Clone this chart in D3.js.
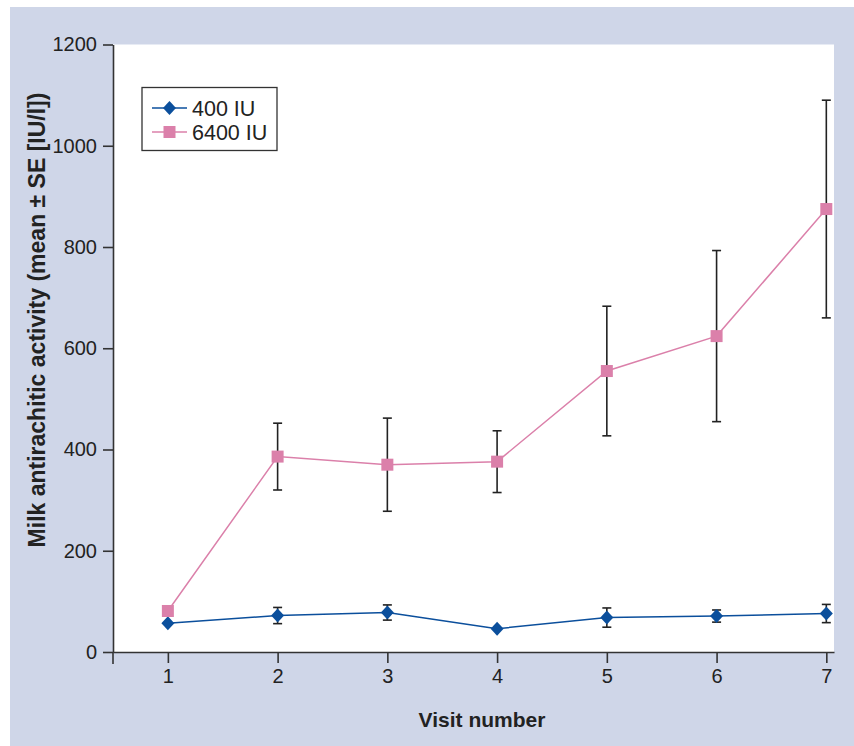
<!DOCTYPE html>
<html>
<head>
<meta charset="utf-8">
<script src="https://cdn.jsdelivr.net/npm/d3@7"></script>
<style>
html,body{margin:0;padding:0;background:#fff;}
svg{display:block;font-family:"Liberation Sans",Arial,Helvetica,sans-serif;}
</style>
</head>
<body>
<svg id="chart" width="854" height="746"></svg>
<script>
// Data
const visits = [1, 2, 3, 4, 5, 6, 7];
const lowDoseMean = [57, 72, 78, 46, 68, 71, 76];
const lowDoseSE = [0, 16, 15, 0, 19, 12, 18];
const highDoseMean = [81, 386, 370, 376, 555, 624, 875];
const highDoseSE = [0, 66, 92, 61, 128, 169, 215];
const seriesNames = ["400 IU", "6400 IU"];
const yTicks = [0, 200, 400, 600, 800, 1000, 1200];

(function () {
const svg = d3.select("#chart");
const W = 854, H = 746;
const mLeft = 113, mRight = 834, mTop = 44.5, mBottom = 652;

const colors = {low: "#0b4f9c", high: "#db80aa", bg: "#cfd6e8", axis: "#333", err: "#222"};

// background panel
svg.append("rect").attr("x", 10).attr("y", 7).attr("width", W - 10).attr("height", H - 7).attr("fill", colors.bg);
// plot area
svg.append("rect").attr("x", mLeft).attr("y", mTop).attr("width", mRight - mLeft).attr("height", mBottom - mTop).attr("fill", "#fff");

const x = d3.scaleLinear().domain([0.5, 7.07]).range([mLeft, mRight]);
const y = d3.scaleLinear().domain([0, 1200]).range([mBottom, mTop]);

// axes
const yAxis = svg.append("g").attr("transform", `translate(${mLeft},0)`)
  .call(d3.axisLeft(y).tickValues(yTicks).tickFormat(d3.format("d")).tickSize(10).tickSizeOuter(0).tickPadding(6));
const xAxis = svg.append("g").attr("transform", `translate(0,${mBottom})`)
  .call(d3.axisBottom(x).tickValues(visits).tickFormat(d3.format("d")).tickSize(11).tickSizeOuter(0).tickPadding(6));
[yAxis, xAxis].forEach(g => {
  g.selectAll("path,line").attr("stroke", colors.axis).attr("stroke-width", 1.6);
  g.selectAll("text").attr("fill", "#222").attr("font-size", 20)
   .attr("font-family", '"Liberation Sans",Arial,Helvetica,sans-serif');
});
// y axis extension below x axis
svg.append("line").attr("x1", mLeft).attr("x2", mLeft).attr("y1", mBottom).attr("y2", mBottom + 12)
  .attr("stroke", colors.axis).attr("stroke-width", 1.6);

// axis titles
svg.append("text").attr("x", 482).attr("y", 727).attr("text-anchor", "middle")
  .attr("font-size", 21).attr("font-weight", "bold").attr("fill", "#222").text("Visit number");
svg.append("text").attr("transform", "translate(45,320) rotate(-90)").attr("text-anchor", "middle")
  .attr("font-size", 23).attr("font-weight", "bold").attr("fill", "#222")
  .text("Milk antirachitic activity (mean ± SE [IU/l])");

const series = [
  {name: seriesNames[0], mean: lowDoseMean, se: lowDoseSE, color: colors.low, shape: "diamond"},
  {name: seriesNames[1], mean: highDoseMean, se: highDoseSE, color: colors.high, shape: "square"}
];

const line = d3.line().x(d => x(d.v)).y(d => y(d.m));

function drawMarker(g, shape, color, cx, cy) {
  if (shape === "square") {
    g.append("rect").attr("x", cx - 6).attr("y", cy - 6).attr("width", 12).attr("height", 12).attr("fill", color);
  } else {
    g.append("path").attr("d", `M${cx},${cy - 7}L${cx + 6.5},${cy}L${cx},${cy + 7}L${cx - 6.5},${cy}Z`).attr("fill", color);
  }
}

series.forEach(s => {
  const pts = visits.map((v, i) => ({v, m: s.mean[i], se: s.se[i]}));
  const g = svg.append("g");
  // error bars
  pts.forEach(p => {
    if (p.se > 0) {
      const cx = x(p.v), y1 = y(p.m + p.se), y2 = y(p.m - p.se);
      g.append("line").attr("x1", cx).attr("x2", cx).attr("y1", y1).attr("y2", y2).attr("stroke", colors.err).attr("stroke-width", 1.6);
      [y1, y2].forEach(yy => g.append("line").attr("x1", cx - 4.5).attr("x2", cx + 4.5).attr("y1", yy).attr("y2", yy)
        .attr("stroke", colors.err).attr("stroke-width", 1.6));
    }
  });
  g.append("path").datum(pts).attr("d", line).attr("fill", "none").attr("stroke", s.color).attr("stroke-width", 1.5);
  pts.forEach(p => drawMarker(g, s.shape, s.color, x(p.v), y(p.m)));
});

// legend
const lg = svg.append("g");
lg.append("rect").attr("x", 142).attr("y", 87.5).attr("width", 135).attr("height", 63).attr("fill", "#fff")
  .attr("stroke", "#333").attr("stroke-width", 1.3);
series.forEach((s, i) => {
  const ly = 108 + i * 24;
  lg.append("line").attr("x1", 152).attr("x2", 187).attr("y1", ly).attr("y2", ly).attr("stroke", s.color).attr("stroke-width", 1.5);
  drawMarker(lg, s.shape, s.color, 169.5, ly);
  lg.append("text").attr("x", 192).attr("y", ly + 7.5).attr("font-size", 21.5).attr("fill", "#222").text(s.name);
});
})();
</script>
</body>
</html>
